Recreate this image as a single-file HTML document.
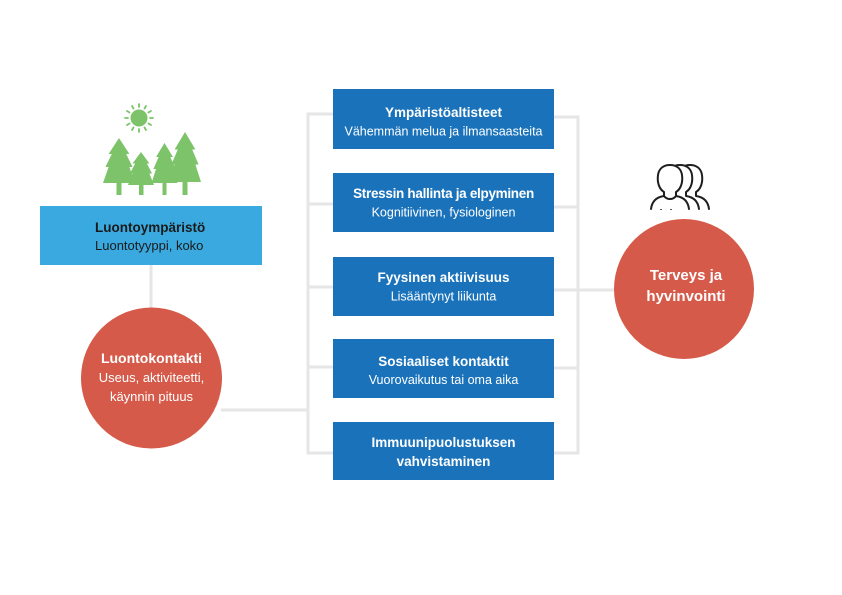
<!DOCTYPE html>
<html>
<head>
<meta charset="utf-8">
<style>
  html,body{margin:0;padding:0;background:#fff;}
  body{width:842px;height:595px;overflow:hidden;}
  svg{display:block;}
  .t{font-family:"Liberation Sans",sans-serif;}
</style>
</head>
<body>
<svg width="842" height="595" viewBox="0 0 842 595" xmlns="http://www.w3.org/2000/svg">
  <rect width="842" height="595" fill="#ffffff"/>

  <!-- connector lines -->
  <g stroke="#e6e6e6" stroke-width="3" fill="none">
    <line x1="151" y1="265" x2="151" y2="309"/>
    <line x1="221" y1="410" x2="308" y2="410"/>
    <line x1="308" y1="114" x2="308" y2="454"/>
    <line x1="306.5" y1="114" x2="334" y2="114"/>
    <line x1="306.5" y1="204" x2="334" y2="204"/>
    <line x1="306.5" y1="287" x2="334" y2="287"/>
    <line x1="306.5" y1="367" x2="334" y2="367"/>
    <line x1="306.5" y1="453" x2="579.5" y2="453"/>
    <line x1="578" y1="117" x2="578" y2="454"/>
    <line x1="553" y1="117" x2="579.5" y2="117"/>
    <line x1="553" y1="207" x2="579.5" y2="207"/>
    <line x1="553" y1="290" x2="617" y2="290"/>
    <line x1="553" y1="368" x2="579.5" y2="368"/>
  </g>

  <!-- sun -->
  <g fill="#7cc36a" stroke="#7cc36a">
    <circle cx="139" cy="118" r="8.5" stroke="none"/>
    <g stroke-width="1.8" stroke-linecap="round">
      <line x1="139" y1="107" x2="139" y2="104"/>
      <line x1="139" y1="129" x2="139" y2="132"/>
      <line x1="128" y1="118" x2="125" y2="118"/>
      <line x1="150" y1="118" x2="153" y2="118"/>
      <line x1="144.5" y1="108.5" x2="146" y2="106"/>
      <line x1="133.5" y1="108.5" x2="132" y2="106"/>
      <line x1="144.5" y1="127.5" x2="146" y2="130"/>
      <line x1="133.5" y1="127.5" x2="132" y2="130"/>
      <line x1="148.5" y1="112.5" x2="151" y2="111"/>
      <line x1="129.5" y1="112.5" x2="127" y2="111"/>
      <line x1="148.5" y1="123.5" x2="151" y2="125"/>
      <line x1="129.5" y1="123.5" x2="127" y2="125"/>
    </g>
  </g>

  <!-- trees -->
  <g fill="#7cc36a">
    <polygon points="119,138 129.4,154 126.2,154 132.6,167 129.4,167 135,183 103,183 108.6,167 105.4,167 111.8,154 108.6,154"/>
    <rect x="116.5" y="180" width="5" height="15"/>
    <polygon points="141,152 149.45,163.5 146.85,163.5 152.05,173.5 149.45,173.5 154,185 128,185 132.55,173.5 129.95,173.5 135.15,163.5 132.55,163.5"/>
    <rect x="139" y="183" width="4.5" height="12"/>
    <polygon points="164.5,143 172.95,157 170.35,157 175.55,169 172.95,169 177.5,183 151.5,183 156.05,169 153.45,169 158.65,157 156.05,157"/>
    <rect x="162.5" y="181" width="4" height="14"/>
    <polygon points="185,132 195.4,149.5 192.2,149.5 198.6,164.5 195.4,164.5 201,182 169,182 174.6,164.5 171.4,164.5 177.8,149.5 174.6,149.5"/>
    <rect x="182.5" y="180" width="5" height="15"/>
  </g>

  <!-- Luontoympäristö box -->
  <rect x="40" y="206" width="222" height="59" fill="#3aa9df"/>
  <text class="t" x="95" y="232" font-size="13.5" font-weight="bold" fill="#1a1a1a">Luontoympäristö</text>
  <text class="t" x="95" y="250" font-size="13" fill="#1a1a1a">Luontotyyppi, koko</text>

  <!-- Luontokontakti circle -->
  <circle cx="151.5" cy="378" r="70.5" fill="#d65a49"/>
  <g class="t" fill="#ffffff" text-anchor="middle">
    <text x="151.5" y="363" font-size="14" font-weight="bold">Luontokontakti</text>
    <text x="151.5" y="382" font-size="13">Useus, aktiviteetti,</text>
    <text x="151.5" y="401" font-size="13">käynnin pituus</text>
  </g>

  <!-- middle boxes -->
  <g fill="#1a73ba">
    <rect x="333" y="89" width="221" height="60"/>
    <rect x="333" y="173" width="221" height="59"/>
    <rect x="333" y="257" width="221" height="59"/>
    <rect x="333" y="339" width="221" height="59"/>
    <rect x="333" y="422" width="221" height="58"/>
  </g>
  <g class="t" fill="#ffffff" text-anchor="middle">
    <text x="443.5" y="117" font-size="13.5" font-weight="bold">Ympäristöaltisteet</text>
    <text x="443.5" y="135.5" font-size="12.5">Vähemmän melua ja ilmansaasteita</text>
    <text x="443.5" y="198" font-size="13.5" font-weight="bold" letter-spacing="-0.3">Stressin hallinta ja elpyminen</text>
    <text x="443.5" y="216.5" font-size="12.5">Kognitiivinen, fysiologinen</text>
    <text x="443.5" y="282" font-size="13.5" font-weight="bold">Fyysinen aktiivisuus</text>
    <text x="443.5" y="300.5" font-size="12.5">Lisääntynyt liikunta</text>
    <text x="443.5" y="366" font-size="13.5" font-weight="bold">Sosiaaliset kontaktit</text>
    <text x="443.5" y="384" font-size="12.5">Vuorovaikutus tai oma aika</text>
    <text x="443.5" y="447" font-size="13.5" font-weight="bold">Immuunipuolustuksen</text>
    <text x="443.5" y="466" font-size="13.5" font-weight="bold">vahvistaminen</text>
  </g>

  <!-- people icon -->
  <g stroke="#1f1f1f" stroke-width="2" fill="#ffffff" stroke-linejoin="round" stroke-linecap="round">
    <g transform="translate(690,180)">
      <path d="M -19,29 C -18,21 -13,17 -6,16 L -6,12 C -11,9 -13,2 -12,-5 C -11,-12 -6,-15 0,-15 C 6,-15 11,-12 12,-5 C 13,2 11,9 6,12 L 6,16 C 13,17 18,21 19,29"/>
    </g>
    <g transform="translate(680,180)">
      <path d="M -19,29 C -18,21 -13,17 -6,16 L -6,12 C -11,9 -13,2 -12,-5 C -11,-12 -6,-15 0,-15 C 6,-15 11,-12 12,-5 C 13,2 11,9 6,12 L 6,16 C 13,17 18,21 19,29"/>
    </g>
    <g transform="translate(670,180)">
      <path d="M -19,29 C -18,21 -13,17 -6,16 L -6,12 C -11,9 -13,2 -12,-5 C -11,-12 -6,-15 0,-15 C 6,-15 11,-12 12,-5 C 13,2 11,9 6,12 L 6,16 C 13,17 18,21 19,29"/>
      <path d="M -6,16 C -3,20 3,20 6,16" fill="none"/>
    </g>
  </g>

  <!-- Terveys circle -->
  <circle cx="684" cy="289" r="70" fill="#d65a49"/>
  <g class="t" fill="#ffffff" text-anchor="middle" font-weight="bold" font-size="15">
    <text x="686" y="280">Terveys ja</text>
    <text x="686" y="301">hyvinvointi</text>
  </g>
</svg>
</body>
</html>
